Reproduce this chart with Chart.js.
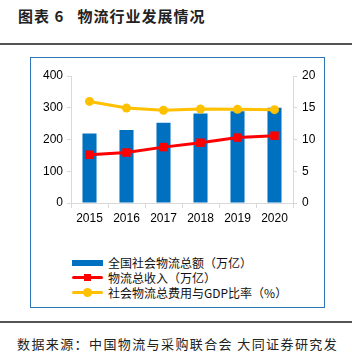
<!DOCTYPE html>
<html>
<head>
<meta charset="utf-8">
<script src="https://cdn.jsdelivr.net/npm/chart.js@4/dist/chart.umd.min.js"></script>
<style>
    html, body { margin: 0; padding: 0; background: #fff; }
    body { width: 352px; height: 358px; position: relative; overflow: hidden; font-family: "Noto Sans CJK SC", sans-serif; }
    .title { position: absolute; left: 18px; top: 5px; font-size: 15px; font-weight: 700; color: #222; letter-spacing: 1px; white-space: nowrap; }
    .rule { position: absolute; left: 0; width: 352px; height: 2px; background: #555; }
    .box { position: absolute; left: 30px; top: 57px; width: 293px; height: 249px; border: 1px solid #2e75b6; }
    .chart-wrap { position: absolute; left: 31px; top: 58px; width: 293px; height: 175px; }
    .legend { position: absolute; left: 72px; top: 255px; font-size: 12px; color: #111; }
    .legend-row { height: 15px; line-height: 15px; display: flex; align-items: center; white-space: nowrap; }
    .swatch { position: relative; width: 31px; height: 15px; margin-right: 5px; }
    .swatch .bar { position: absolute; left: 0; top: 5px; width: 31px; height: 6px; }
    .swatch .ln { position: absolute; left: 0; top: 6px; width: 31px; height: 3px; border-radius: 2px; }
    .swatch .sq { position: absolute; left: 12px; top: 4px; width: 7px; height: 7px; }
    .swatch .dot { position: absolute; left: 11px; top: 3px; width: 9px; height: 9px; border-radius: 50%; }
    .source { position: absolute; left: 17px; top: 334px; font-size: 13px; color: #222; letter-spacing: 1.4px; white-space: nowrap; }
</style>
</head>
<body>
<div class="title">图表 6&nbsp;&nbsp;&nbsp;物流行业发展情况</div>
<div class="rule" style="top:43px"></div>
<div class="box"></div>
<div class="chart-wrap"><canvas id="logisticsChart" width="293" height="175"></canvas></div>
<div class="legend" id="legend"></div>
<div class="rule" style="top:321px"></div>
<div class="source">数据来源：中国物流与采购联合会 大同证券研究发</div>

<script>
    // data
    const years = ["2015", "2016", "2017", "2018", "2019", "2020"];
    const totalAmount = [219, 230, 253, 282, 289, 300];       // 万亿, left axis
    const income = [7.6, 7.95, 8.8, 9.5, 10.3, 10.6];          // 万亿, right axis
    const costRatio = [16.0, 14.95, 14.6, 14.8, 14.75, 14.7];  // %, right axis
    const leftTicks = [0, 100, 200, 300, 400];
    const rightTicks = [0, 5, 10, 15, 20];

    const BLUE = "#0070c0";
    const RED = "#ff0000";
    const YELLOW = "#ffc000";
    const GRID = "#d9d9d9";
    const tickFont = { family: "'Liberation Sans', Arial, sans-serif", size: 12 };

    const datasets = [
        {
            type: "line",
            label: "社会物流总费用与GDP比率（%）",
            data: costRatio,
            yAxisID: "y1",
            borderColor: YELLOW,
            backgroundColor: YELLOW,
            borderWidth: 3,
            pointStyle: "circle",
            pointRadius: 4.5,
            pointBorderWidth: 0,
            tension: 0,
            order: 1,
        },
        {
            type: "line",
            label: "物流总收入（万亿）",
            data: income,
            yAxisID: "y1",
            borderColor: RED,
            backgroundColor: RED,
            borderWidth: 3,
            pointStyle: "rect",
            pointRadius: 6,
            pointBorderWidth: 0,
            tension: 0,
            order: 2,
        },
        {
            type: "bar",
            label: "全国社会物流总额（万亿）",
            data: totalAmount,
            yAxisID: "y",
            backgroundColor: BLUE,
            barPercentage: 0.38,
            categoryPercentage: 1,
            order: 3,
        },
    ];

    new Chart(document.getElementById("logisticsChart"), {
        data: { labels: years, datasets: datasets },
        options: {
            responsive: false,
            animation: false,
            layout: { padding: { top: 18, left: 0, right: 0, bottom: 0 } },
            plugins: { legend: { display: false }, tooltip: { enabled: false } },
            scales: {
                x: {
                    offset: true,
                    grid: { offset: true, drawOnChartArea: false, drawTicks: true, tickLength: 5, color: GRID },
                    border: { color: GRID },
                    ticks: { color: "#000", font: tickFont, padding: 3, maxRotation: 0 },
                    afterFit: (s) => { s.height = 30; },
                },
                y: {
                    position: "left",
                    min: 0, max: 400,
                    afterBuildTicks: (s) => { s.ticks = leftTicks.map((v) => ({ value: v })); },
                    grid: { drawOnChartArea: false, drawTicks: true, tickLength: 4, color: GRID },
                    border: { color: GRID },
                    ticks: { color: "#000", font: tickFont, padding: 4 },
                    afterFit: (s) => { s.width = 40; },
                },
                y1: {
                    position: "right",
                    min: 0, max: 20,
                    afterBuildTicks: (s) => { s.ticks = rightTicks.map((v) => ({ value: v })); },
                    grid: { drawOnChartArea: false, drawTicks: true, tickLength: 4, color: GRID },
                    border: { color: GRID },
                    ticks: { color: "#000", font: tickFont, padding: 5 },
                    afterFit: (s) => { s.width = 31; },
                },
            },
        },
    });

    // legend in the reference's order: bars first, then lines
    const legendItems = [datasets[2], datasets[1], datasets[0]];
    document.getElementById("legend").innerHTML = legendItems.map((d) => {
        let sw;
        if (d.type === "bar") sw = `<div class="bar" style="background:${d.backgroundColor}"></div>`;
        else if (d.pointStyle === "rect") sw = `<div class="ln" style="background:${d.borderColor}"></div><div class="sq" style="background:${d.borderColor}"></div>`;
        else sw = `<div class="ln" style="background:${d.borderColor}"></div><div class="dot" style="background:${d.borderColor}"></div>`;
        return `<div class="legend-row"><div class="swatch">${sw}</div><span>${d.label}</span></div>`;
    }).join("");
</script>
</body>
</html>
